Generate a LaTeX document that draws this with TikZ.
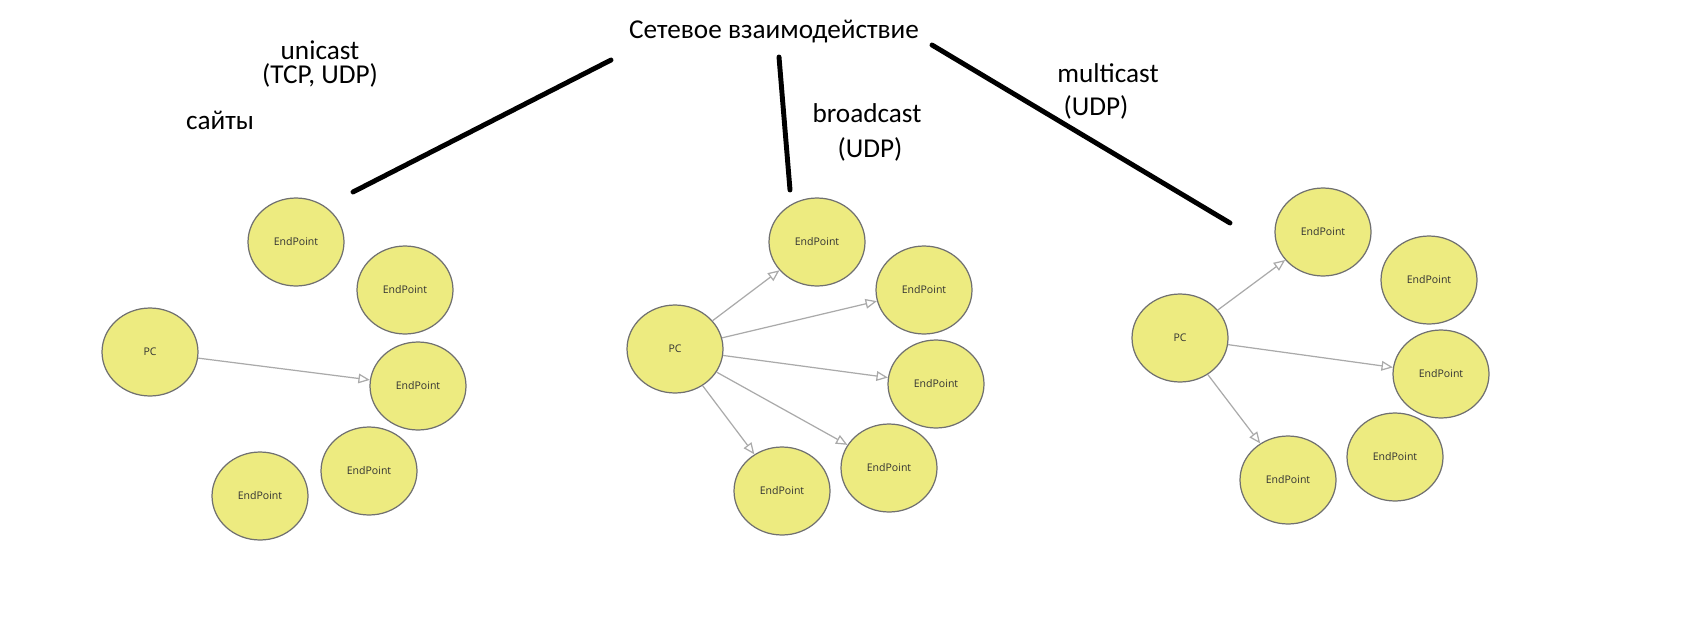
\documentclass[tikz,border=0pt]{standalone}
\usepackage{fontspec}
\setmainfont{Carlito}
\newfontfamily\ptfont{Open Sans}
\usetikzlibrary{arrows.meta,shapes.geometric}
\definecolor{ptfill}{HTML}{EDEB80}
\definecolor{ptline}{HTML}{707070}
\definecolor{linkgray}{HTML}{AAAAAA}

\begin{document}
\begin{tikzpicture}[x=0.02cm,y=-0.02cm,
    host/.style={ellipse,draw=ptline,line width=0.7pt,fill=ptfill,minimum width=1.92cm,minimum height=1.76cm,inner sep=0pt,font=\ptfont\fontsize{6}{7}\selectfont,text=black!80},
    link/.style={draw=linkgray,line width=0.7pt,-{Triangle[open,length=6.5pt,width=5.5pt,fill=white]}},
    branch/.style={line width=2.8pt,line cap=round},
    lbl/.style={font=\fontsize{15.5}{13.5}\selectfont,inner sep=0pt,align=center}]
    \useasboundingbox (0,0) rectangle (1689,639);

    \node[lbl] (title) at (774,32) {Сетевое взаимодействие};
    \node[lbl] (uni) at (320,64) {unicast\\(TCP, UDP)};
    \node[lbl] (sites) at (220,120) {сайты};
    \node[lbl] (broad) at (867,113) {broadcast};
    \node[lbl] (broadp) at (870,149) {(UDP)};
    \node[lbl] (multi) at (1108,73) {multicast};
    \node[lbl] (multip) at (1096,107) {(UDP)};

    \coordinate (a1) at (611,60);   \coordinate (a2) at (353,192);
    \coordinate (b1) at (779,57);   \coordinate (b2) at (790,190);
    \coordinate (c1) at (932,45);   \coordinate (c2) at (1230,223);
    \draw[branch] (a1) -- (a2);
    \draw[branch] (b1) -- (b2);
    \draw[branch] (c1) -- (c2);

    \node[host] (pc1) at (150,352) {PC};
    \node[host] (e1) at (296,242) {EndPoint};
    \node[host] (e2) at (405,290) {EndPoint};
    \node[host] (e3) at (418,386) {EndPoint};
    \node[host] (e4) at (369,471) {EndPoint};
    \node[host] (e5) at (260,496) {EndPoint};

    \node[host] (pc2) at (675,349) {PC};
    \node[host] (e6) at (817,242) {EndPoint};
    \node[host] (e7) at (924,290) {EndPoint};
    \node[host] (e8) at (936,384) {EndPoint};
    \node[host] (e9) at (889,468) {EndPoint};
    \node[host] (e10) at (782,491) {EndPoint};

    \node[host] (pc3) at (1180,338) {PC};
    \node[host] (e11) at (1323,232) {EndPoint};
    \node[host] (e12) at (1429,280) {EndPoint};
    \node[host] (e13) at (1441,374) {EndPoint};
    \node[host] (e14) at (1395,457) {EndPoint};
    \node[host] (e15) at (1288,480) {EndPoint};

    \draw[link] (pc1) -- (e3);
    \foreach \t in {e6,e7,e8,e9,e10}
        \draw[link] (pc2) -- (\t);
    \foreach \t in {e11,e13,e15}
        \draw[link] (pc3) -- (\t);
\end{tikzpicture}
\end{document}
